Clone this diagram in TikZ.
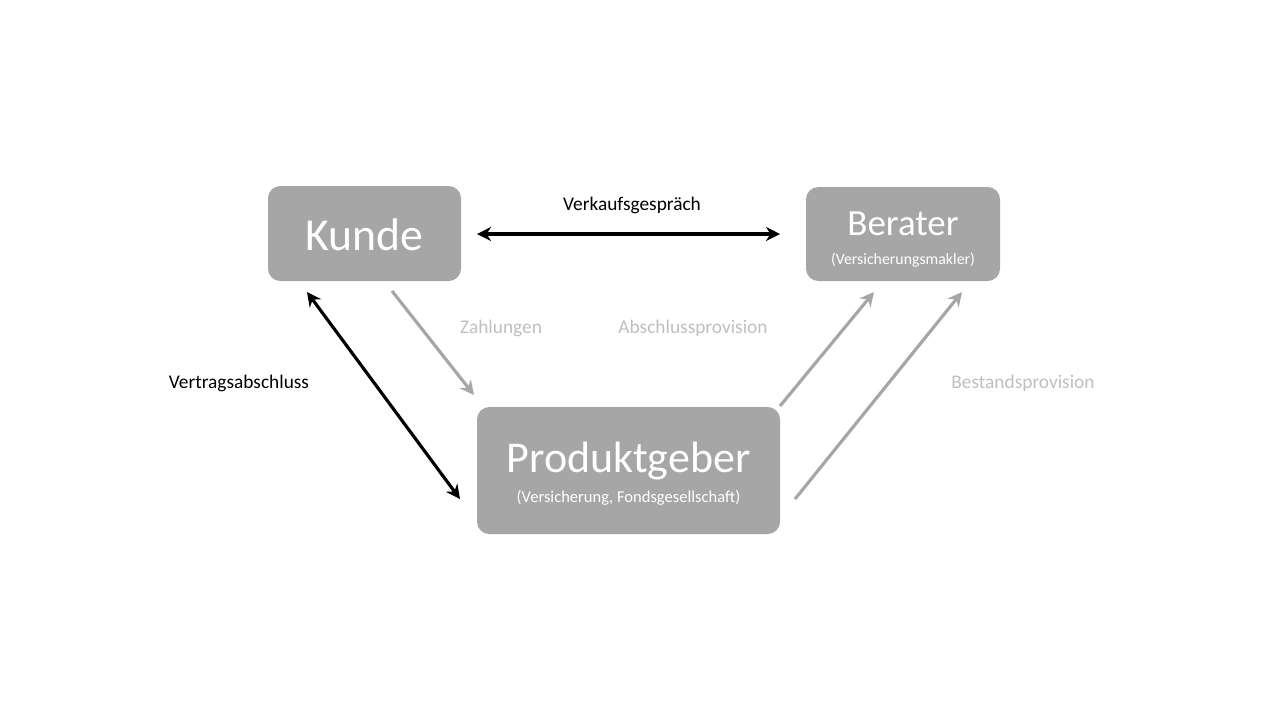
\documentclass[tikz,border=0pt]{standalone}
\usepackage{fontspec}
\setmainfont{Carlito}
\usetikzlibrary{arrows.meta}
\definecolor{boxgray}{HTML}{A6A6A6}
\definecolor{lblgray}{HTML}{BFBFBF}
\begin{document}
\begin{tikzpicture}[x=0.01cm,y=-0.01cm,
  box/.style={fill=boxgray,rounded corners=3.5pt,inner sep=0pt},
  blk/.style={line width=0.9pt,black,{Stealth[length=4pt,width=4pt]}-{Stealth[length=4pt,width=4pt]}},
  gry/.style={line width=0.9pt,boxgray,-{Stealth[length=4pt,width=4pt]}},
  lbl/.style={font=\fontsize{5.5}{6.5}\selectfont,text=lblgray},
  lblk/.style={font=\fontsize{5.5}{6.5}\selectfont,text=black}]
\useasboundingbox (0,0) rectangle (1280,720);
\node[box,minimum width=193\pgflinewidth*0+193*0.01cm,minimum height=95*0.01cm] (kunde) at (364.5,233.5) {};
\node[text=white,font=\fontsize{13}{15}\selectfont] at (364.5,235) {Kunde};
\node[box,minimum width=194*0.01cm,minimum height=94*0.01cm] (berater) at (903,234) {};
\node[text=white,font=\fontsize{10.5}{12}\selectfont] (bt) at (903,224) {Berater};
\node[text=white,font=\fontsize{4.5}{5.5}\selectfont] (bs) at (903,260) {(Versicherungsmakler)};
\node[box,minimum width=303*0.01cm,minimum height=127*0.01cm] (prod) at (628.5,470.5) {};
\node[text=white,font=\fontsize{12.5}{14}\selectfont] (pt) at (628.5,461) {Produktgeber};
\node[text=white,font=\fontsize{4.7}{5.5}\selectfont] (ps) at (628.5,498) {(Versicherung, Fondsgesellschaft)};
\coordinate (a1) at (477,234); \coordinate (a2) at (780,234);
\draw[blk] (a1) -- (a2);
\node[lblk] at (632,205) {Verkaufsgespräch};
\coordinate (b1) at (307,292); \coordinate (b2) at (460,499);
\draw[blk] (b1) -- (b2);
\node[lblk] at (239,383) {Vertragsabschluss};
\coordinate (c1) at (392,291); \coordinate (c2) at (474,395);
\draw[gry] (c1) -- (c2);
\node[lbl] at (501,328) {Zahlungen};
\coordinate (d1) at (780,406); \coordinate (d2) at (874,292);
\draw[gry] (d1) -- (d2);
\node[lbl] at (693,328) {Abschlussprovision};
\coordinate (e1) at (795,499); \coordinate (e2) at (962,292);
\draw[gry] (e1) -- (e2);
\node[lbl] at (1023,383) {Bestandsprovision};
\end{tikzpicture}
\end{document}
